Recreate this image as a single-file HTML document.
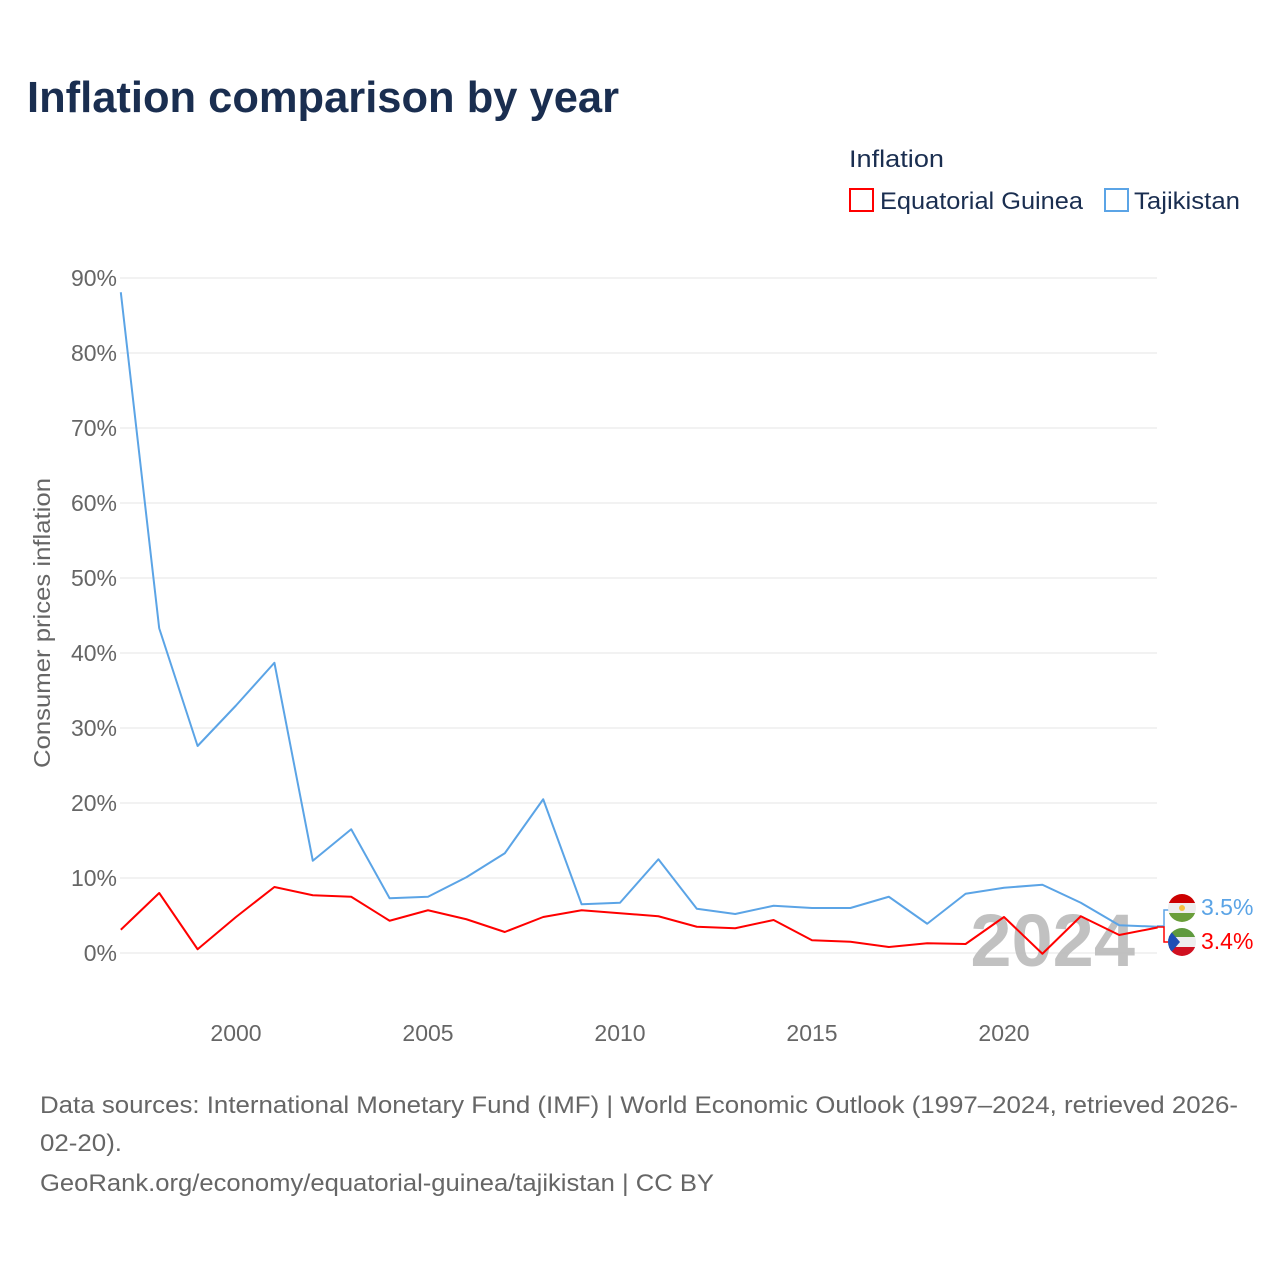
<!DOCTYPE html>
<html><head><meta charset="utf-8"><style>
body{margin:0;background:#fff;font-family:"Liberation Sans",sans-serif}
</style></head><body>
<svg id="c" width="1280" height="1280" xmlns="http://www.w3.org/2000/svg">
<text x="27" y="112" font-size="44" font-weight="bold" fill="#1a2e50" textLength="592" lengthAdjust="spacingAndGlyphs">Inflation comparison by year</text>
<text x="849" y="167" font-size="24" fill="#1a2e50" textLength="95" lengthAdjust="spacingAndGlyphs">Inflation</text>
<g><rect x="850" y="189" width="23" height="22" fill="none" stroke="#f00" stroke-width="2"/><text x="880" y="209" font-size="24" fill="#1a2e50" textLength="203" lengthAdjust="spacingAndGlyphs">Equatorial Guinea</text></g>
<g><rect x="1105" y="189" width="23" height="22" fill="none" stroke="#5ba4e6" stroke-width="2"/><text x="1134" y="209" font-size="24" fill="#1a2e50" textLength="106" lengthAdjust="spacingAndGlyphs">Tajikistan</text></g>
<text transform="translate(50,623) rotate(-90)" text-anchor="middle" font-size="23" fill="#666" textLength="290" lengthAdjust="spacingAndGlyphs">Consumer prices inflation</text>
<g id="grid"></g><g id="yt"></g><g id="xt"></g>
<text x="1135" y="966" text-anchor="end" font-size="74" font-weight="bold" fill="#bbb" opacity="0.9">2024</text>
<g id="lines"></g>
<g>
<path d="M1157,926 L1164,926 L1164,910 L1170,910" fill="none" stroke="#5ba4e6" stroke-width="1.5"/>
<path d="M1157,927 L1164,927 L1164,942 L1170,942" fill="none" stroke="#f00" stroke-width="1.5"/>
<clipPath id="f1"><circle cx="1182" cy="908" r="14"/></clipPath>
<g clip-path="url(#f1)"><rect x="1168" y="894" width="28" height="9" fill="#cc0000"/><rect x="1168" y="903" width="28" height="10" fill="#eee"/><rect x="1168" y="913" width="28" height="9" fill="#6a9e3a"/><circle cx="1182" cy="908" r="3" fill="#f5c242"/></g>
<clipPath id="f2"><circle cx="1182" cy="942" r="14"/></clipPath>
<g clip-path="url(#f2)"><rect x="1168" y="928" width="28" height="9" fill="#5f9a3e"/><rect x="1168" y="937" width="28" height="10" fill="#eee"/><rect x="1168" y="947" width="28" height="9" fill="#d01020"/><path d="M1168,928 L1180,942 L1168,956Z" fill="#1f4fb5"/></g>
<text x="1201" y="915" font-size="23" fill="#5ba4e6">3.5%</text>
<text x="1201" y="949" font-size="23" fill="#f00">3.4%</text>
</g>
<text x="40" y="1113" font-size="24" fill="#666" textLength="1198" lengthAdjust="spacingAndGlyphs">Data sources: International Monetary Fund (IMF) | World Economic Outlook (1997–2024, retrieved 2026-</text>
<text x="40" y="1151" font-size="24" fill="#666" textLength="82" lengthAdjust="spacingAndGlyphs">02-20).</text>
<text x="40" y="1191" font-size="24" fill="#666" textLength="674" lengthAdjust="spacingAndGlyphs">GeoRank.org/economy/equatorial-guinea/tajikistan | CC BY</text>
</svg>
<script>
const years=[1997,1998,1999,2000,2001,2002,2003,2004,2005,2006,2007,2008,2009,2010,2011,2012,2013,2014,2015,2016,2017,2018,2019,2020,2021,2022,2023,2024];
const tajikistan=[88.1,43.3,27.6,33.0,38.7,12.3,16.5,7.3,7.5,10.1,13.3,20.5,6.5,6.7,12.5,5.9,5.2,6.3,6.0,6.0,7.5,3.9,7.9,8.7,9.1,6.7,3.7,3.5];
const eqGuinea=[3.1,8.0,0.5,4.8,8.8,7.7,7.5,4.3,5.7,4.5,2.8,4.8,5.7,5.3,4.9,3.5,3.3,4.4,1.7,1.5,0.8,1.3,1.2,4.8,-0.1,4.9,2.4,3.4];
const yTicks=[0,10,20,30,40,50,60,70,80,90];
const xTicks=[2000,2005,2010,2015,2020];
const X=y=>120.8+(y-1997)*38.4, Y=v=>953-v*7.5;
const NS="http://www.w3.org/2000/svg";
function mk(t,a,p){const e=document.createElementNS(NS,t);for(const k in a)e.setAttribute(k,a[k]);p.appendChild(e);return e;}
const g=document.getElementById('grid'),yt=document.getElementById('yt'),xt=document.getElementById('xt'),ln=document.getElementById('lines');
yTicks.forEach(v=>{const l=mk('line',{x1:120,x2:1157,y1:Y(v),y2:Y(v),stroke:'#e6e6e6','stroke-width':1},g);


const t=mk('text',{x:117,y:Y(v)+8,'text-anchor':'end','font-size':23,fill:'#666'},yt);t.textContent=v+'%';

});
xTicks.forEach(v=>{const t=mk('text',{x:X(v),y:1041,'text-anchor':'middle','font-size':23,fill:'#666'},xt);t.textContent=v;

});
function line(d,c,n){const p=mk('polyline',{points:d.map((v,i)=>X(years[i])+','+Y(v)).join(' '),fill:'none',stroke:c,'stroke-width':2,'stroke-linejoin':'round'},ln);

}
line(tajikistan,'#5ba4e6','tajikistan-line');
line(eqGuinea,'#f00','equatorial-guinea-line');
</script>
</body></html>
